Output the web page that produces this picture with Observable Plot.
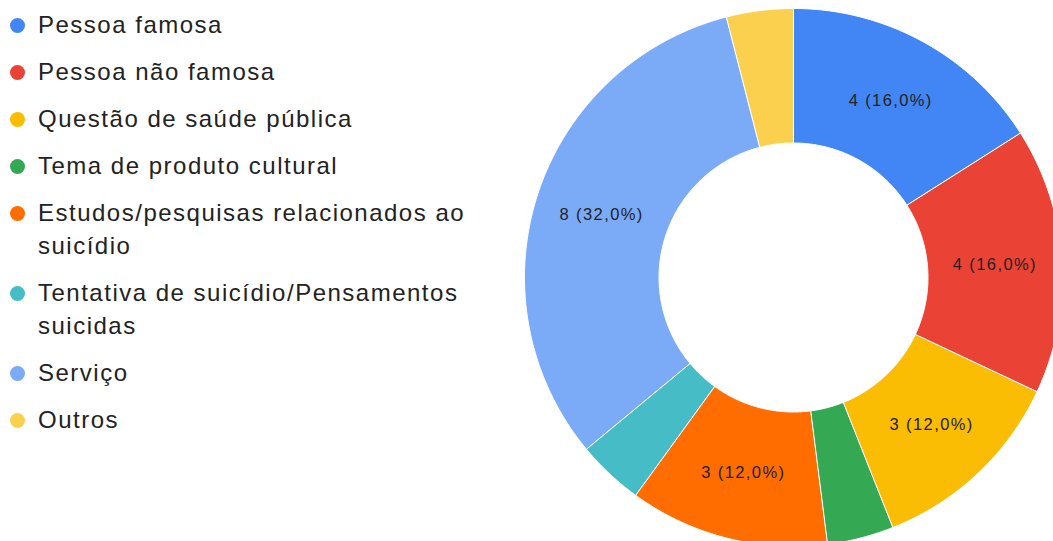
<!DOCTYPE html>
<html>
<head>
<meta charset="utf-8">
<script src="https://cdn.jsdelivr.net/npm/d3@7"></script>
<script src="https://cdn.jsdelivr.net/npm/@observablehq/plot@0.6"></script>
<style>
  html, body { margin: 0; padding: 0; background: #fff; }
  #wrap { position: relative; width: 1053px; height: 541px; overflow: hidden; }
  #chart { position: absolute; left: 0; top: 0; }
  #legend { position: absolute; left: 0; top: 8px; font-family: "Liberation Sans", Arial, sans-serif; font-size: 24px; letter-spacing: 1.5px; color: #222; }
  .item { position: relative; padding-left: 38px; width: 440px; line-height: 33px; margin-bottom: 14px; }
  .dot { position: absolute; left: 10px; top: 10px; width: 15px; height: 15px; border-radius: 50%; }
</style>
</head>
<body>
<div id="wrap">
  <div id="chart"></div>
  <div id="legend"></div>
</div>
<script>
const categories = [
  "Pessoa famosa",
  "Pessoa não famosa",
  "Questão de saúde pública",
  "Tema de produto cultural",
  "Estudos/pesquisas relacionados ao suicídio",
  "Tentativa de suicídio/Pensamentos suicidas",
  "Serviço",
  "Outros"
];
const counts = [4, 4, 3, 1, 3, 1, 8, 1];
const colors = ["#4285F4", "#EA4335", "#FBBC04", "#34A853", "#FF6D01", "#46BDC6", "#7BAAF7", "#FCD04F"];

const W = 1053, H = 541;
const cx = 793, cy = 277, R = 269;   // layout: center and outer radius in px
const inner = 0.5;                    // inner radius as fraction of outer

const total = d3.sum(counts);
const arcs = d3.pie().sort(null).value(d => d)(counts);

// polygon points per slice in unit coordinates
const pts = [];
arcs.forEach((a, i) => {
  const n = Math.max(4, Math.ceil((a.endAngle - a.startAngle) / 0.01));
  for (let k = 0; k <= n; k++) {
    const t = a.startAngle + (a.endAngle - a.startAngle) * k / n;
    pts.push({name: categories[i], x: Math.sin(t), y: Math.cos(t)});
  }
  for (let k = n; k >= 0; k--) {
    const t = a.startAngle + (a.endAngle - a.startAngle) * k / n;
    pts.push({name: categories[i], x: inner * Math.sin(t), y: inner * Math.cos(t)});
  }
});

const fmt = v => (v * 100).toFixed(1).replace(".", ",");
const labels = arcs
  .map((a, i) => {
    const m = (a.startAngle + a.endAngle) / 2;
    const r = (1 + inner) / 2;
    return {x: r * Math.sin(m), y: r * Math.cos(m), share: counts[i] / total,
            text: `${counts[i]} (${fmt(counts[i] / total)}%)`};
  })
  .filter(d => d.share >= 0.1);

const chart = Plot.plot({
  width: W,
  height: H,
  margin: 0,
  x: {domain: [-cx / R, (W - cx) / R], axis: null},
  y: {domain: [-(H - cy) / R, cy / R], axis: null},
  color: {domain: categories, range: colors},
  style: {background: "white"},
  marks: [
    Plot.line(pts, {x: "x", y: "y", z: "name", fill: "name", stroke: "white", strokeWidth: 1, curve: "linear-closed"}),
    Plot.text(labels, {x: "x", y: "y", text: "text", fill: "#222", fontSize: 16.5,
      fontFamily: "Liberation Sans, Arial, sans-serif", style: "letter-spacing:1.4px"})
  ]
});
chart.querySelectorAll("text").forEach(t => t.style.letterSpacing = "1.4px");
document.getElementById("chart").appendChild(chart);

const legend = d3.select("#legend");
categories.forEach((c, i) => {
  const it = legend.append("div").attr("class", "item");
  it.append("span").attr("class", "dot").style("background", colors[i]);
  it.append("span").text(c);
});
</script>
</body>
</html>
